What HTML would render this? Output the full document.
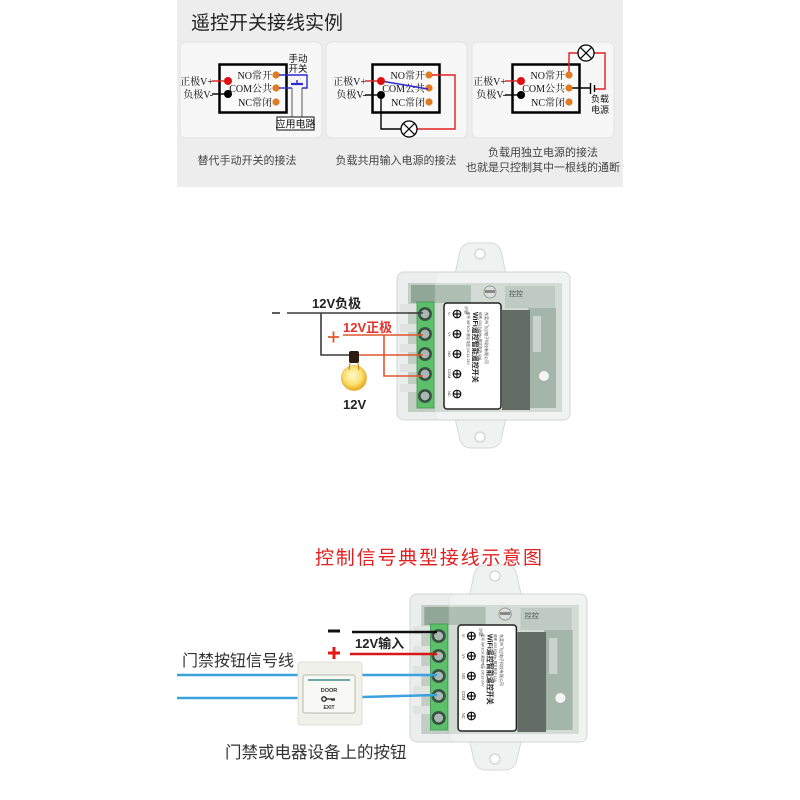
<!DOCTYPE html>
<html><head><meta charset="utf-8"><style>
html,body{margin:0;padding:0;background:#fff;}
svg{display:block;}
.s{font-family:"Liberation Serif","Noto Serif CJK SC",serif;}
.a{font-family:"Liberation Sans","Noto Sans CJK SC",sans-serif;}
</style></head><body>
<svg width="800" height="800" viewBox="0 0 800 800" xmlns="http://www.w3.org/2000/svg">
<defs>
<radialGradient id="bulb" cx="0.45" cy="0.4" r="0.6">
<stop offset="0" stop-color="#fffbd0"/><stop offset="0.6" stop-color="#fde070"/><stop offset="1" stop-color="#e8a818"/>
</radialGradient>
<g id="dev">
  <path d="M58,2 L63,-21 Q66,-29 74,-29 L93,-29 Q101,-29 104,-21 L109,2 Z" fill="#f0f2f1" stroke="#d6d9d7"/>
  <circle cx="83" cy="-18" r="5" fill="#fff" stroke="#c8cbc9"/>
  <path d="M58,146 L63,168 Q66,176 74,176 L93,176 Q101,176 104,168 L109,146 Z" fill="#f0f2f1" stroke="#d6d9d7"/>
  <circle cx="83" cy="165" r="5" fill="#fff" stroke="#c8cbc9"/>
  <rect x="0" y="0" width="173" height="148" rx="7" fill="#eceeed" stroke="#d3d6d4"/>
  <rect x="11" y="11" width="154" height="129" fill="#c2cdc5"/>
  <rect x="14" y="13" width="60" height="18" fill="#90a696"/>
  <rect x="108" y="14" width="50" height="22" fill="#a6b8ab"/>
  <rect x="131" y="36" width="28" height="100" fill="#7f9a88"/>
  <rect x="105" y="38" width="28" height="100" fill="#26332b"/>
  <rect x="136" y="44" width="8" height="36" fill="#b6c4ba"/>
  <circle cx="147" cy="104" r="5" fill="#eef2ee"/>
  <rect x="38" y="0" width="135" height="148" rx="6" fill="#ffffff" opacity="0.28" stroke="#d2d6d4"/>
  <circle cx="93" cy="20" r="6" fill="#dcdfdd" stroke="#999"/>
  <rect x="88" y="18" width="10" height="3" fill="#888"/>
  <text x="112" y="24" class="a" font-size="7" fill="#4a5a50">控控</text>
  <g fill="#dfe3e1"><rect x="3" y="32" width="17" height="8"/><rect x="3" y="52" width="17" height="8"/><rect x="3" y="72" width="17" height="8"/><rect x="3" y="92" width="17" height="8"/><rect x="3" y="112" width="17" height="8"/></g>
  <rect x="20" y="30" width="17" height="106" fill="#5cbf6a" stroke="#3d9a4c" stroke-width="0.8"/>
  <g>
    <circle cx="28" cy="42" r="7" fill="#3f5a4a"/><circle cx="28" cy="42" r="5" fill="#a9b9b1" stroke="#2c3f34"/>
    <circle cx="28" cy="62" r="7" fill="#3f5a4a"/><circle cx="28" cy="62" r="5" fill="#a9b9b1" stroke="#2c3f34"/>
    <circle cx="28" cy="82" r="7" fill="#3f5a4a"/><circle cx="28" cy="82" r="5" fill="#a9b9b1" stroke="#2c3f34"/>
    <circle cx="28" cy="102" r="7" fill="#3f5a4a"/><circle cx="28" cy="102" r="5" fill="#a9b9b1" stroke="#2c3f34"/>
    <circle cx="28" cy="124" r="7" fill="#3f5a4a"/><circle cx="28" cy="124" r="5" fill="#a9b9b1" stroke="#2c3f34"/>
  </g>
  <rect x="47" y="31" width="57" height="106" rx="3" fill="#fff" stroke="#222" stroke-width="1.5"/>
  <g stroke="#111" stroke-width="1.2" fill="none">
    <circle cx="60" cy="42" r="3.8"/><path d="M56.2,42H63.8M60,38.2V45.8"/>
    <circle cx="60" cy="62" r="3.8"/><path d="M56.2,62H63.8M60,58.2V65.8"/>
    <circle cx="60" cy="82" r="3.8"/><path d="M56.2,82H63.8M60,78.2V85.8"/>
    <circle cx="60" cy="102" r="3.8"/><path d="M56.2,102H63.8M60,98.2V105.8"/>
    <circle cx="60" cy="122" r="3.8"/><path d="M56.2,122H63.8M60,118.2V125.8"/>
  </g>
  <g class="a" font-size="4" fill="#333">
    <text transform="translate(51,40) rotate(90)">V-</text>
    <text transform="translate(51,60) rotate(90)">V+</text>
    <text transform="translate(51,79) rotate(90)">NO</text>
    <text transform="translate(51,97) rotate(90)">COM</text>
    <text transform="translate(51,119) rotate(90)">NC</text>
  </g>
  <text transform="translate(76,40) rotate(90)" class="a" font-size="7" font-weight="bold" fill="#222">WiFi遥控智能遥控开关</text>
  <text transform="translate(70,40) rotate(90)" class="a" font-size="3.5" fill="#444">型号 WF1CH  额定电压 DC12-24V</text>
  <text transform="translate(82,40) rotate(90)" class="a" font-size="3.5" fill="#444">频率 433.92MHz  额定电流 10A</text>
  <text transform="translate(88,40) rotate(90)" class="a" font-size="4" fill="#444">东莞市飞过电子科技有限公司</text>
  <text transform="translate(68,34) rotate(90)" class="a" font-size="4" fill="#333">沙鼠</text>
</g>
</defs>

<!-- TOP SECTION -->
<rect x="177" y="0" width="446" height="187" fill="#ededed"/>
<text x="191" y="29" class="a" font-size="19" fill="#222">遥控开关接线实例</text>
<rect x="180" y="42" width="142" height="96" rx="6" fill="#f7f7f7" stroke="#e2e2e2"/>
<rect x="326" y="42" width="141" height="96" rx="6" fill="#f7f7f7" stroke="#e2e2e2"/>
<rect x="472" y="42" width="142" height="96" rx="6" fill="#f7f7f7" stroke="#e2e2e2"/>

<!-- panel 1 -->
<g class="s" font-size="10" fill="#111">
<rect x="219.5" y="64.5" width="67" height="48" fill="#fafafa" stroke="#000" stroke-width="2.5"/>
<text x="213" y="85" text-anchor="end">正极V+</text>
<text x="213" y="98" text-anchor="end">负极V-</text>
<line x1="212" y1="81" x2="226" y2="81" stroke="#e02020" stroke-width="1.4"/>
<line x1="212" y1="94" x2="226" y2="94" stroke="#000" stroke-width="1.4"/>
<circle cx="228" cy="81" r="4" fill="#e01010"/>
<circle cx="228" cy="94" r="4" fill="#000"/>
<text x="272" y="79" text-anchor="end">NO常开</text>
<text x="272" y="92" text-anchor="end">COM公共</text>
<text x="272" y="106" text-anchor="end">NC常闭</text>
<circle cx="276" cy="75" r="3.6" fill="#e07b22"/>
<circle cx="276" cy="88" r="3.6" fill="#e07b22"/>
<circle cx="276" cy="102" r="3.6" fill="#e07b22"/>
<polyline points="279,75 307,75 307,88 302,88" fill="none" stroke="#2b2bd0" stroke-width="1.4"/>
<line x1="279" y1="88" x2="292" y2="88" stroke="#2b2bd0" stroke-width="1.4"/>
<line x1="291" y1="84" x2="303" y2="84" stroke="#2b2bd0" stroke-width="2.2"/>
<line x1="297" y1="84" x2="297" y2="80" stroke="#2b2bd0" stroke-width="1.4"/>
<line x1="292" y1="88" x2="292" y2="117" stroke="#555" stroke-width="1"/>
<line x1="302" y1="88" x2="302" y2="117" stroke="#555" stroke-width="1"/>
<rect x="277" y="117" width="37" height="13" fill="#fff" stroke="#333" stroke-width="1.2"/>
<text x="295.5" y="127.5" text-anchor="middle" class="a">应用电路</text>
<text x="298" y="62" text-anchor="middle" class="a" font-size="9.5">手动</text>
<text x="298" y="72" text-anchor="middle" class="a" font-size="9.5">开关</text>
</g>

<!-- panel 2 -->
<g class="s" font-size="10" fill="#111">
<rect x="372.5" y="64.5" width="67" height="48" fill="#fafafa" stroke="#000" stroke-width="2.5"/>
<text x="366" y="85" text-anchor="end">正极V+</text>
<text x="366" y="98" text-anchor="end">负极V-</text>
<line x1="365" y1="81" x2="379" y2="81" stroke="#e02020" stroke-width="1.4"/>
<line x1="365" y1="95" x2="379" y2="95" stroke="#000" stroke-width="1.4"/>
<text x="425" y="79" text-anchor="end">NO常开</text>
<text x="425" y="92" text-anchor="end">COM公共</text>
<text x="425" y="106" text-anchor="end">NC常闭</text>
<circle cx="429" cy="75" r="3.6" fill="#e07b22"/>
<circle cx="429" cy="88" r="3.6" fill="#e07b22"/>
<circle cx="429" cy="102" r="3.6" fill="#e07b22"/>
<line x1="381" y1="81" x2="428" y2="89" stroke="#2b2bd0" stroke-width="1.5"/>
<circle cx="381" cy="81" r="4" fill="#e01010"/>
<circle cx="381" cy="95" r="4" fill="#000"/>
<polyline points="432,75 455,75 455,129 417,129" fill="none" stroke="#e02020" stroke-width="1.4"/>
<polyline points="381,95 381,129 401,129" fill="none" stroke="#000" stroke-width="1.4"/>
<circle cx="409" cy="129" r="8" fill="#fff" stroke="#000" stroke-width="1.3"/>
<path d="M403.3,123.3L414.7,134.7M414.7,123.3L403.3,134.7" stroke="#000" stroke-width="1.2"/>
</g>

<!-- panel 3 -->
<g class="s" font-size="10" fill="#111">
<rect x="512.5" y="64.5" width="67" height="48" fill="#fafafa" stroke="#000" stroke-width="2.5"/>
<text x="506" y="85" text-anchor="end">正极V+</text>
<text x="506" y="98" text-anchor="end">负极V-</text>
<line x1="505" y1="81" x2="519" y2="81" stroke="#e02020" stroke-width="1.4"/>
<line x1="505" y1="95" x2="519" y2="95" stroke="#000" stroke-width="1.4"/>
<circle cx="521" cy="81" r="4" fill="#e01010"/>
<circle cx="521" cy="95" r="4" fill="#000"/>
<text x="565" y="79" text-anchor="end">NO常开</text>
<text x="565" y="92" text-anchor="end">COM公共</text>
<text x="565" y="106" text-anchor="end">NC常闭</text>
<polyline points="569,72 569,53 578,53" fill="none" stroke="#e02020" stroke-width="1.4"/>
<polyline points="594,53 605,53 605,89 595,89" fill="none" stroke="#e02020" stroke-width="1.4"/>
<circle cx="586" cy="53" r="8" fill="#fff" stroke="#000" stroke-width="1.3"/>
<path d="M580.3,47.3L591.7,58.7M591.7,47.3L580.3,58.7" stroke="#000" stroke-width="1.2"/>
<line x1="572" y1="88" x2="590" y2="88" stroke="#000" stroke-width="1.4"/>
<line x1="590.5" y1="83" x2="590.5" y2="94" stroke="#000" stroke-width="1.4"/>
<line x1="594.5" y1="85" x2="594.5" y2="92" stroke="#000" stroke-width="1.4"/>
<circle cx="569" cy="75" r="3.6" fill="#e07b22"/>
<circle cx="569" cy="88" r="3.6" fill="#e07b22"/>
<circle cx="569" cy="102" r="3.6" fill="#e07b22"/>
<text x="600" y="102" text-anchor="middle" class="a" font-size="9">负载</text>
<text x="600" y="113" text-anchor="middle" class="a" font-size="9">电源</text>
</g>

<g class="a" font-size="11" fill="#444" text-anchor="middle">
<text x="247" y="164">替代手动开关的接法</text>
<text x="396" y="164">负载共用输入电源的接法</text>
<text x="543" y="156">负载用独立电源的接法</text>
<text x="543" y="171">也就是只控制其中一根线的通断</text>
</g>

<!-- MIDDLE SECTION -->
<use href="#dev" transform="translate(397,272)"/>
<line x1="272" y1="313" x2="280" y2="313" stroke="#333" stroke-width="1.6"/>
<polyline points="287,313 423,313" fill="none" stroke="#3a3a3a" stroke-width="1.6"/>
<polyline points="321,313 321,355 350,355" fill="none" stroke="#3a3a3a" stroke-width="1.6"/>
<line x1="358" y1="355" x2="423" y2="355" stroke="#e0562e" stroke-width="1.6"/>
<line x1="343" y1="335" x2="423" y2="335" stroke="#e0562e" stroke-width="1.6"/>
<polyline points="384,335 384,376 423,376" fill="none" stroke="#e0562e" stroke-width="1.6"/>
<path d="M328,337H339M333.5,331.5V342.5" stroke="#e0562e" stroke-width="1.8"/>
<text x="312" y="308" class="a" font-size="13" font-weight="bold" fill="#222">12V负极</text>
<text x="343" y="332" class="a" font-size="13" font-weight="bold" fill="#e8302a">12V正极</text>
<rect x="349" y="351" width="10" height="12" rx="2" fill="#2a1c10"/>
<circle cx="354" cy="378" r="12.5" fill="url(#bulb)" stroke="#e0a020" stroke-width="0.6"/>
<path d="M350,363 L349,370 M358,363 L359,370" stroke="#c08010" stroke-width="1"/>
<text x="343" y="409" class="a" font-size="13" font-weight="bold" fill="#222">12V</text>

<!-- BOTTOM SECTION -->
<use href="#dev" transform="translate(410,594) scale(1.023,1.0)"/>
<text x="315" y="564" class="a" font-size="19" letter-spacing="1.8" fill="#e02020">控制信号典型接线示意图</text>
<rect x="328" y="629.5" width="12" height="3" fill="#111"/>
<line x1="352" y1="632" x2="437" y2="632" stroke="#111" stroke-width="2.5"/>
<text x="355" y="648" class="a" font-size="13" font-weight="bold" fill="#222">12V输入</text>
<path d="M328,653H340M334,647V659" stroke="#e01818" stroke-width="3"/>
<line x1="350" y1="654" x2="437" y2="654" stroke="#d81818" stroke-width="2.5"/>
<text x="182" y="666" class="a" font-size="16" fill="#333">门禁按钮信号线</text>
<g stroke="#3aa2de" stroke-width="2.5">
<line x1="177" y1="675" x2="298" y2="675"/>
<line x1="362" y1="675" x2="437" y2="675"/>
<line x1="177" y1="698" x2="298" y2="698"/>
<line x1="362" y1="697" x2="437" y2="695"/>
</g>
<rect x="298" y="662" width="64" height="63" rx="3" fill="#f1f1ec" stroke="#dcdcd6"/>
<rect x="303" y="675" width="52" height="38" rx="2" fill="#f8f8f4" stroke="#b8b8b0"/>
<rect x="308" y="679" width="42" height="2" fill="#6fa6a6"/>
<text x="329" y="692" text-anchor="middle" class="a" font-size="5.5" font-weight="bold" fill="#333">DOOR</text>
<circle cx="324" cy="699" r="2.2" fill="none" stroke="#222" stroke-width="1.3"/>
<path d="M326,699H335M332,699V701M334,699V701" stroke="#222" stroke-width="1.3"/>
<text x="329" y="709" text-anchor="middle" class="a" font-size="5" font-weight="bold" fill="#333">EXIT</text>
<text x="225" y="758" class="a" font-size="16.5" fill="#333">门禁或电器设备上的按钮</text>
</svg>
</body></html>
